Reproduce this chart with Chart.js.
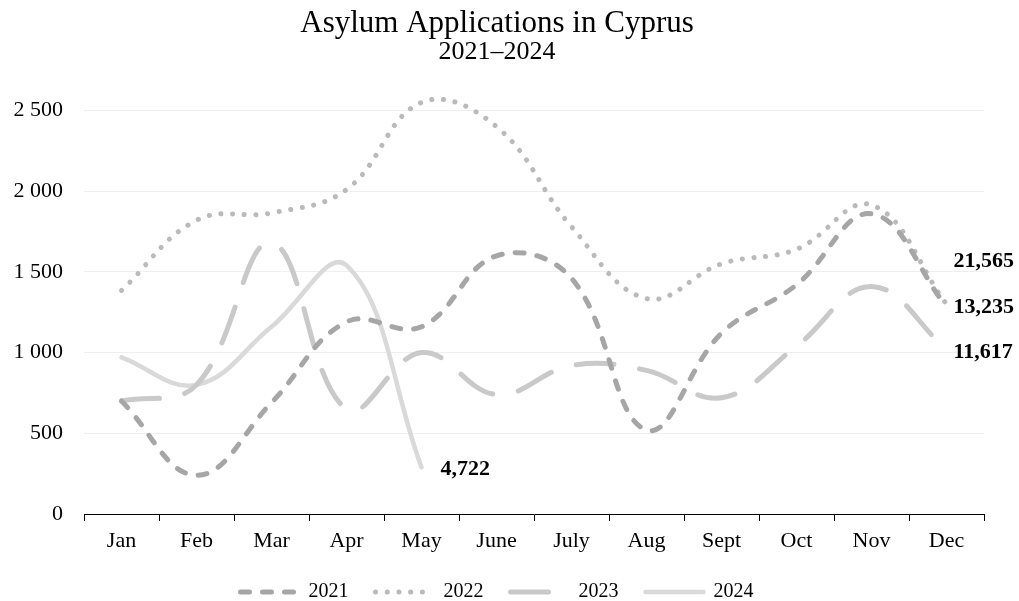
<!DOCTYPE html>
<html>
<head>
<meta charset="utf-8">
<script src="https://cdn.jsdelivr.net/npm/chart.js@4"></script>
<style>
  html, body { margin: 0; padding: 0; background: #fff; }
  #wrap { width: 1019px; height: 601px; }
</style>
</head>
<body>
<div id="wrap"><canvas id="chart1"></canvas></div>
<script>
var months = ["Jan", "Feb", "Mar", "Apr", "May", "June", "July", "Aug", "Sept", "Oct", "Nov", "Dec"];
var apps2021 = [700, 240, 690, 1190, 1160, 1600, 1460, 520, 1120, 1420, 1860, 1285];
var apps2022 = [1385, 1820, 1865, 2010, 2550, 2400, 1780, 1335, 1550, 1640, 1915, 1300];
var apps2023 = [700, 800, 1680, 650, 1000, 740, 920, 890, 720, 1040, 1410, 1020];
var apps2024 = [970, 800, 1160, 1540, 290];
var totals = [13235, 21565, 11617, 4722];
var yTicks = [0, 500, 1000, 1500, 2000, 2500];

var serif = '"Liberation Serif", "Times New Roman", serif';

// writes the yearly total next to the last point of each line
var endLabels = {
  id: 'endLabels',
  afterDatasetsDraw(chart) {
    let ctx = chart.ctx;
    ctx.save();
    ctx.font = 'bold 22px ' + serif;
    ctx.fillStyle = '#000';
    ctx.textBaseline = 'middle';
    ctx.textAlign = 'left';
    chart.data.datasets.forEach(function (ds, i) {
      let meta = chart.getDatasetMeta(i);
      let pt = meta.data[meta.data.length - 1];
      ctx.fillText(totals[i].toLocaleString('en-US'), pt.x + ds.labelDx, pt.y + ds.labelDy);
    });
    ctx.restore();
  }
};

function line(label, data, color, width, dash, dx, dy) {
  return {
    label: label,
    data: data,
    borderColor: color,
    backgroundColor: color,
    borderWidth: width,
    borderDash: dash,
    borderCapStyle: 'round',
    pointRadius: 0,
    pointHoverRadius: 0,
    tension: 0.4,
    fill: false,
    clip: false,
    labelDx: dx,
    labelDy: dy
  };
}

var ctx = document.getElementById('chart1');
var myChart = new Chart(ctx, {
  type: 'line',
  data: {
    labels: months,
    datasets: [
      line('2021', apps2021, '#a6a6a6', 5, [9, 13], 7, 1),
      line('2022', apps2022, '#bababa', 5, [0.1, 11.6], 7, -43),
      line('2023', apps2023, '#c9c9c9', 5, [38, 26], 7, 3),
      line('2024', apps2024, '#d9d9d9', 4.5, [], 19, 2)
    ]
  },
  plugins: [endLabels],
  options: {
    responsive: true,
    maintainAspectRatio: false,
    animation: false,
    layout: {
      padding: { left: 10, right: 35, top: 0, bottom: -11 }
    },
    elements: {
      line: { capBezierPoints: false }
    },
    plugins: {
      title: {
        display: true,
        text: 'Asylum Applications in Cyprus',
        color: '#000',
        font: { family: serif, size: 31, weight: 'normal', lineHeight: 1 },
        padding: { top: 8.5, bottom: 0 }
      },
      subtitle: {
        display: true,
        text: '2021\u20132024',
        color: '#000',
        font: { family: serif, size: 26, weight: 'normal', lineHeight: 1 },
        padding: { top: 0, bottom: 45 }
      },
      legend: {
        position: 'bottom',
        labels: {
          usePointStyle: true,
          pointStyle: 'line',
          pointStyleWidth: 58,
          padding: 27,
          color: '#000',
          font: { family: serif, size: 20 },
          generateLabels: function (chart) {
            return chart.data.datasets.map(function (ds, i) {
              return {
                text: ds.label,
                strokeStyle: ds.borderColor,
                fillStyle: ds.borderColor,
                lineWidth: ds.borderWidth,
                lineDash: ds.borderDash,
                lineCap: 'round',
                pointStyle: 'line',
                hidden: false,
                datasetIndex: i
              };
            });
          }
        }
      },
      tooltip: { enabled: false }
    },
    scales: {
      x: {
        offset: true,
        afterFit: function (scale) { scale.height = 41; },
        grid: {
          offset: true,
          drawOnChartArea: false,
          drawTicks: true,
          tickLength: 7,
          color: '#000'
        },
        border: { display: true, color: '#000', width: 1 },
        ticks: {
          color: '#000',
          padding: 7.5,
          font: { family: serif, size: 22 }
        }
      },
      y: {
        min: 0,
        max: 2500,
        afterFit: function (scale) { scale.width = 74; },
        afterBuildTicks: function (scale) {
          scale.ticks = yTicks.map(function (v) { return { value: v }; });
        },
        grid: { color: '#efefef', drawTicks: false },
        border: { display: false },
        ticks: {
          color: '#000',
          padding: 21,
          font: { family: serif, size: 22 },
          callback: function (v) { return String(v).replace(/\B(?=(\d{3})+(?!\d))/g, ' '); }
        }
      }
    }
  }
});
</script>
</body>
</html>
